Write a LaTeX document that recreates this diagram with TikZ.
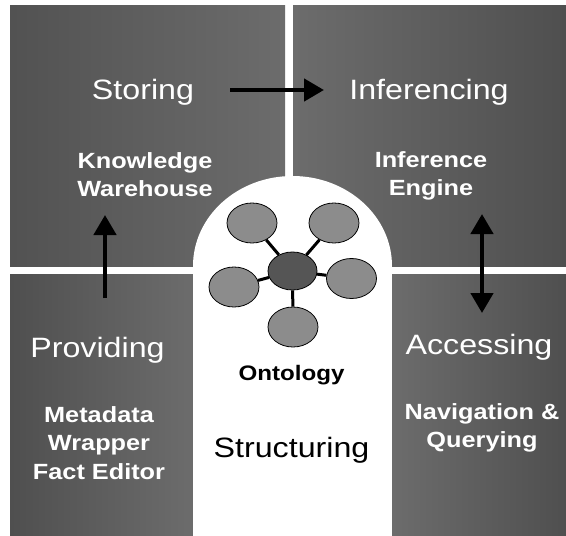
\documentclass[tikz,border=0pt]{standalone}
\usepackage{fontspec}
\setmainfont{Liberation Sans}[FakeStretch=1.15]
\usetikzlibrary{shapes.geometric,arrows.meta}
\definecolor{qdark}{HTML}{4F4F4F}
\definecolor{qlight}{HTML}{6C6C6C}
\definecolor{ofill}{HTML}{8C8C8C}
\definecolor{cfill}{HTML}{555555}
\tikzset{
  title/.style={text=white, font=\fontsize{28}{30}\selectfont, anchor=base, inner sep=0pt},
  sub/.style={text=white, font=\bfseries\fontsize{22}{24}\selectfont, anchor=base, inner sep=0pt},
  blacktitle/.style={text=black, font=\fontsize{28}{30}\selectfont, anchor=base, inner sep=0pt},
  blacksub/.style={text=black, font=\bfseries\fontsize{21}{24}\selectfont, anchor=base, inner sep=0pt},
  outer/.style={ellipse, draw=black, line width=0.8pt, fill=ofill, minimum width=50pt, minimum height=40pt, inner sep=0pt},
  center/.style={ellipse, draw=black, line width=0.8pt, fill=cfill, minimum width=49pt, minimum height=38pt, inner sep=0pt},
  link/.style={line width=3pt, black},
  bigarrow/.style={line width=4.5pt, black, -{Triangle[length=20pt,width=22pt]}},
  dblarrow/.style={line width=4.5pt, black, {Triangle[length=20pt,width=22pt]}-{Triangle[length=20pt,width=22pt]}}
}
\begin{document}
\begin{tikzpicture}[x=1pt,y=-1pt]
\useasboundingbox (0,0) rectangle (566,536);
\fill[white] (0,0) rectangle (566,536);
% quadrants
\shade[left color=qdark!90!qlight, right color=qlight] (10,5) rectangle (285,266);
\shade[left color=qlight, right color=qdark] (293,5) rectangle (566,266);
\shade[left color=qdark, right color=qlight] (10,274) rectangle (193,536);
\shade[left color=qlight, right color=qdark] (392,274) rectangle (566,536);
% arch
\fill[white] (292.5,266) ellipse [x radius=99.5pt, y radius=90pt];
\fill[white] (193,266) rectangle (392,536);
% titles
\node[title] (storing) at (143,99) {Storing};
\node[title] (inferencing) at (429,99) {Inferencing};
\node[title] (providing) at (97.5,357) {Providing};
\node[title] (accessing) at (479,354) {Accessing};
\node[blacktitle] (structuring) at (291.5,457) {Structuring};
% sub texts
\node[sub] (kw1) at (145,168) {Knowledge};
\node[sub] (kw2) at (145,196) {Warehouse};
\node[sub] (ie1) at (431,167) {Inference};
\node[sub] (ie2) at (431,195) {Engine};
\node[sub] (mw1) at (99,422) {Metadata};
\node[sub] (mw2) at (99,450) {Wrapper};
\node[sub] (mw3) at (99,479) {Fact Editor};
\node[sub] (nq1) at (482,419) {Navigation \&};
\node[sub] (nq2) at (482,447) {Querying};
\node[blacksub] (ontology) at (291.5,380) {Ontology};
% ontology graph
\node[center] (oc) at (292.5,271) {};
\node[outer] (o1) at (252,223) {};
\node[outer] (o2) at (334,223) {};
\node[outer] (o3) at (234,287) {};
\node[outer] (o4) at (351.5,278.5) {};
\node[outer] (o5) at (293,327) {};
\foreach \o in {o1,o2,o3,o4,o5} \draw[link] (oc) -- (\o);
% arrows
\coordinate (h1) at (230,90);
\coordinate (h2) at (324,90);
\coordinate (v1) at (105,298);
\coordinate (v2) at (105,215);
\coordinate (d1) at (482,214);
\coordinate (d2) at (482,313);
\draw[bigarrow] (h1) -- (h2);
\draw[bigarrow] (v1) -- (v2);
\draw[dblarrow] (d1) -- (d2);
\end{tikzpicture}
\end{document}
